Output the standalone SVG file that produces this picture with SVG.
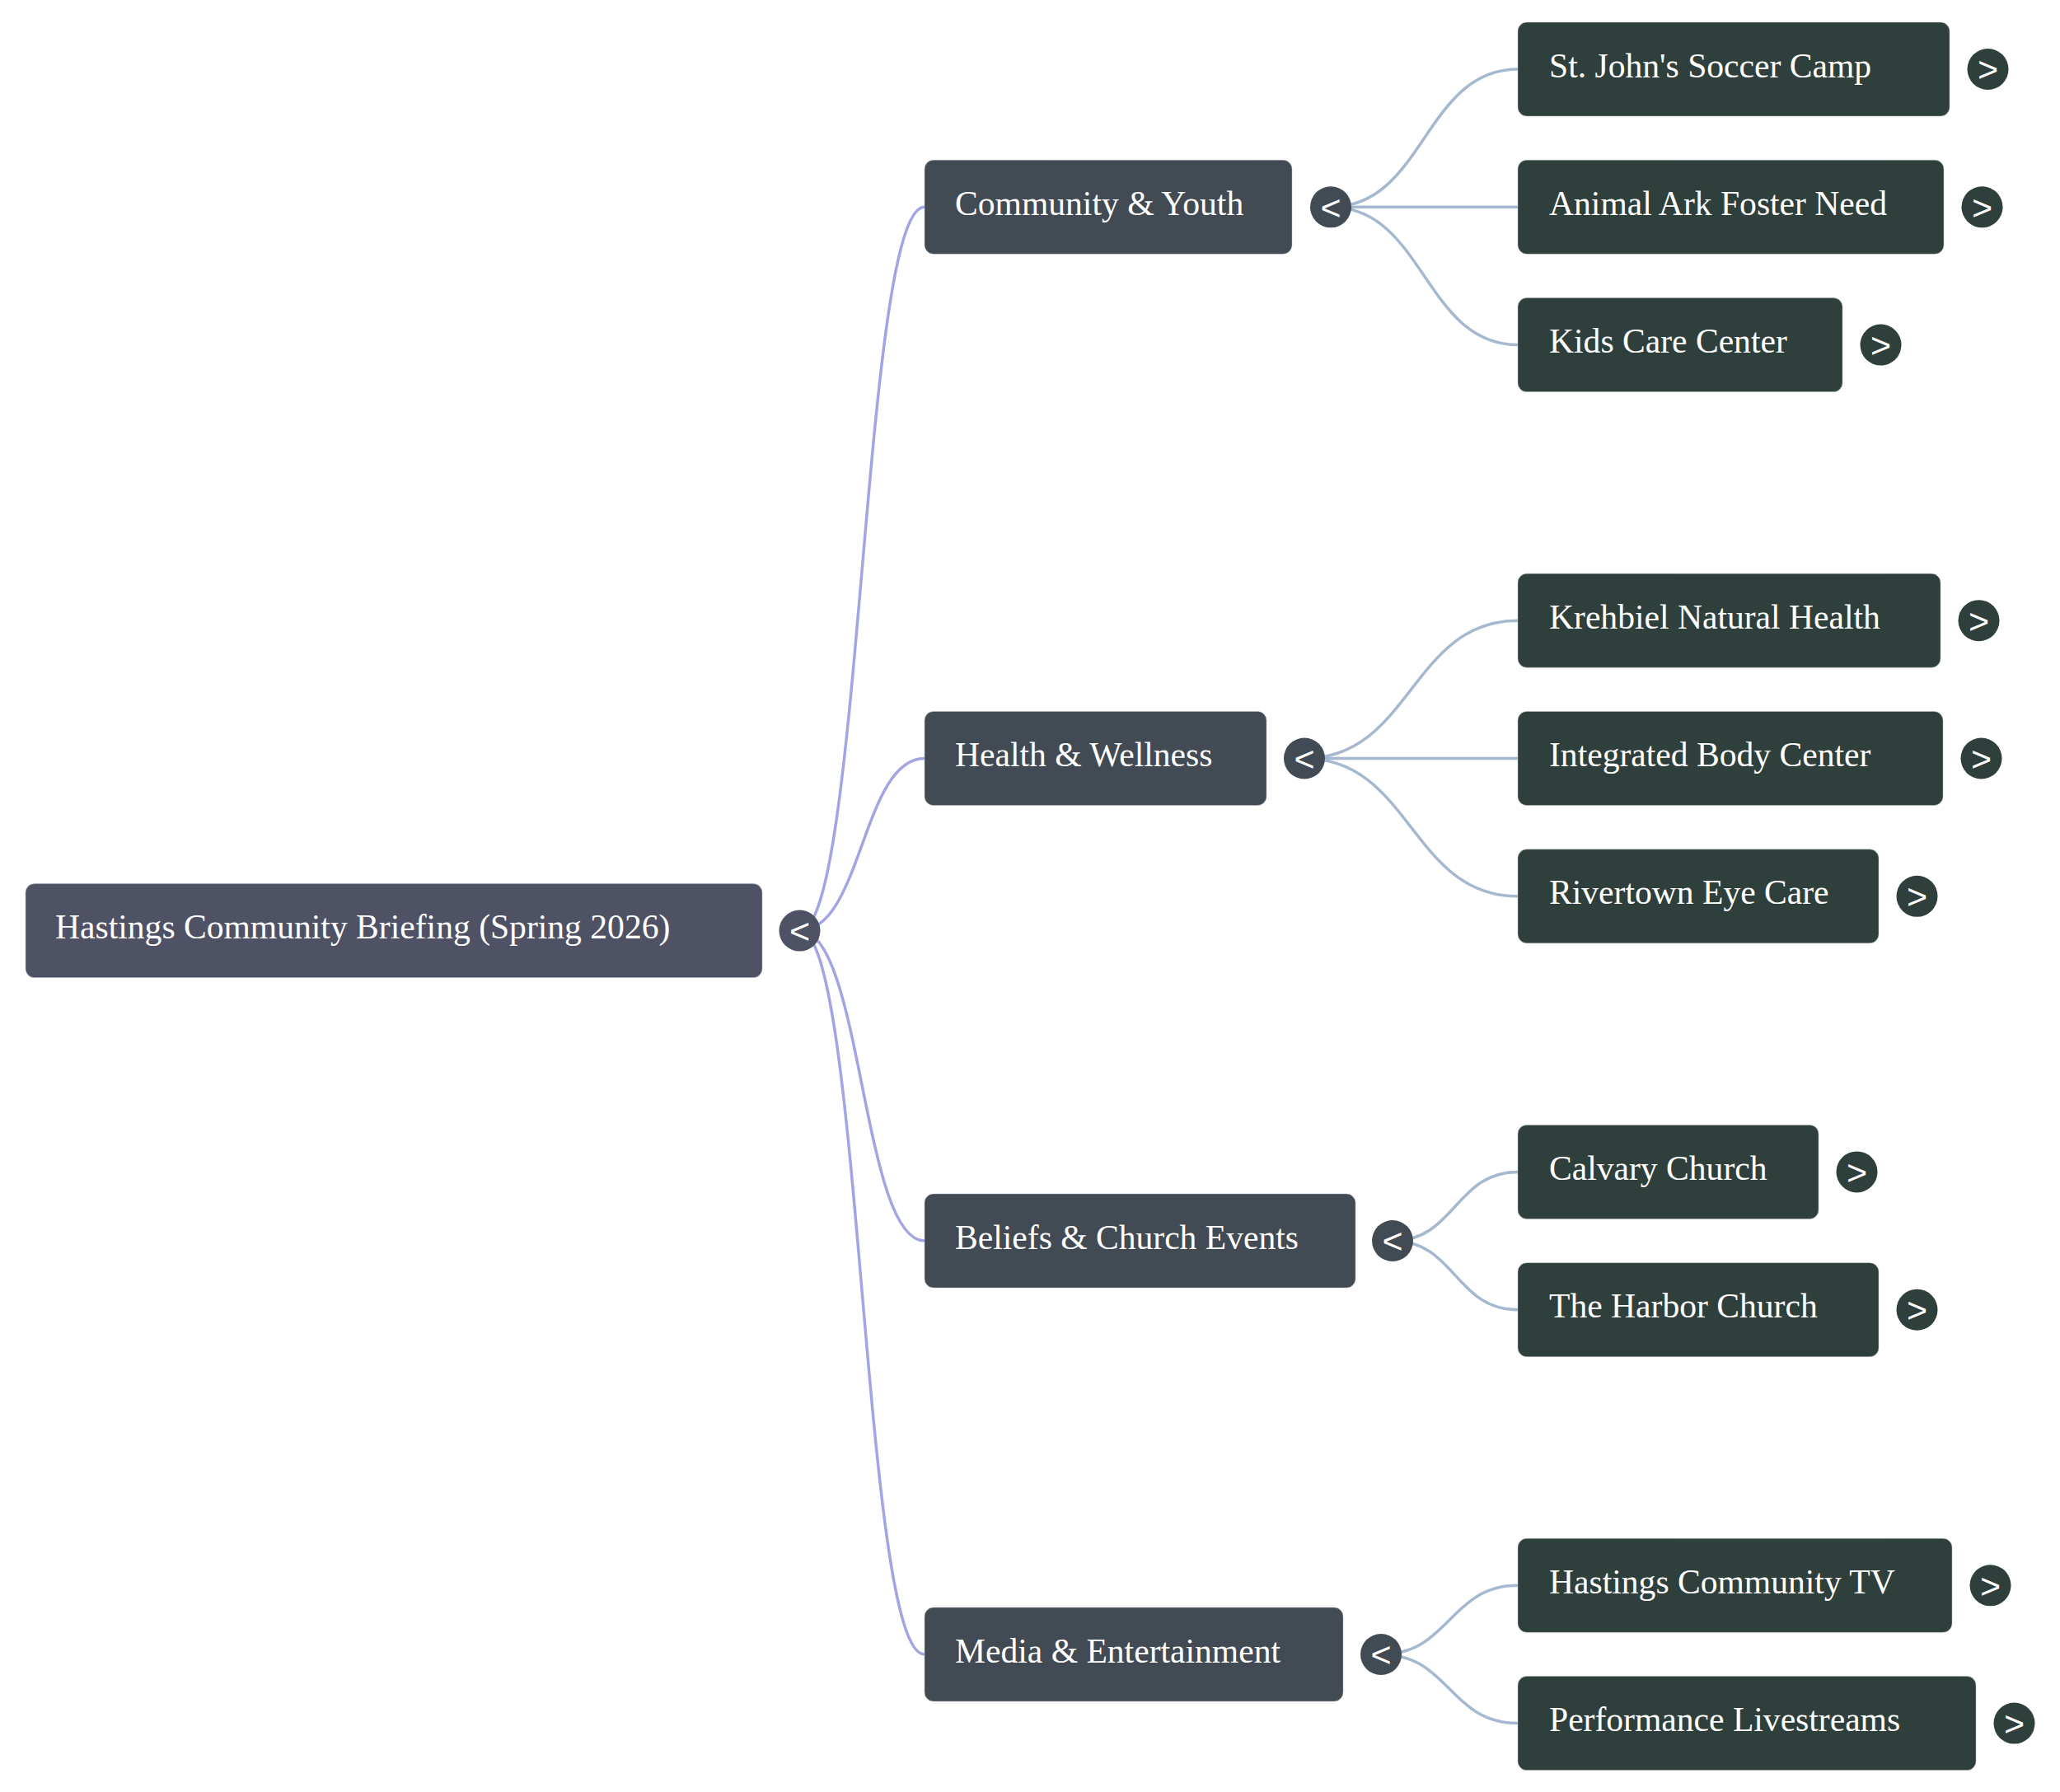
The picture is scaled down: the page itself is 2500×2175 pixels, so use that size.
<svg xmlns="http://www.w3.org/2000/svg" width="2500" height="2175" viewBox="0 0 2500 2175">
<style>
.box{stroke:#b8bcc4;stroke-width:1;stroke-opacity:0.5}
.root{fill:#4f5265}
.l1{fill:#424a53}
.l2{fill:#2f3f3c}
.lbl{font-family:"Liberation Serif","Times New Roman",serif;font-size:41.6px;fill:#ffffff}
.tog{font-family:"Liberation Sans",Arial,sans-serif;font-size:43px;fill:#ffffff;text-anchor:middle}
.e0{fill:none;stroke:#a3a4e3;stroke-width:3.5}
.e1{fill:none;stroke:#a5b8d0;stroke-width:3.5}
</style>
<rect width="2500" height="2175" fill="#ffffff"/>
<g id="connectors">
<path class="e0" d="M970.5,1129.6 C1046.25,1129.6 1046.25,251.3 1122,251.3"/>
<path class="e0" d="M970.5,1129.6 C1046.25,1129.6 1046.25,920.5 1122,920.5"/>
<path class="e0" d="M970.5,1129.6 C1046.25,1129.6 1046.25,1506 1122,1506"/>
<path class="e0" d="M970.5,1129.6 C1046.25,1129.6 1046.25,2008 1122,2008"/>
<path class="e1" d="M1615,251.3 C1728.5,251.3 1728.5,84 1842,84"/>
<path class="e1" d="M1615,251.3 L1842,251.3"/>
<path class="e1" d="M1615,251.3 C1728.5,251.3 1728.5,418.6 1842,418.6"/>
<path class="e1" d="M1583,920.5 C1712.5,920.5 1712.5,753.2 1842,753.2"/>
<path class="e1" d="M1583,920.5 L1842,920.5"/>
<path class="e1" d="M1583,920.5 C1712.5,920.5 1712.5,1087.8 1842,1087.8"/>
<path class="e1" d="M1690,1506 C1766,1506 1766,1422.4 1842,1422.4"/>
<path class="e1" d="M1690,1506 C1766,1506 1766,1589.7 1842,1589.7"/>
<path class="e1" d="M1676,2008 C1759,2008 1759,1924.3 1842,1924.3"/>
<path class="e1" d="M1676,2008 C1759,2008 1759,2091.6 1842,2091.6"/>
</g>
<g id="root">
<rect class="box root" x="31" y="1072.6" width="894" height="114" rx="11"/>
<text class="lbl" x="67" y="1139">Hastings Community Briefing (Spring 2026)</text>
<circle class="root" cx="970.5" cy="1129.6" r="25"/>
<text class="tog" x="970.5" y="1145">&lt;</text>
</g>
<g id="community-youth">
<rect class="box l1" x="1122" y="194.3" width="446" height="114" rx="11"/>
<text class="lbl" x="1159" y="260.8">Community &amp; Youth</text>
<circle class="l1" cx="1615" cy="251.3" r="25"/>
<text class="tog" x="1615" y="266.7">&lt;</text>
</g>
<g id="health-wellness">
<rect class="box l1" x="1122" y="863.5" width="415" height="114" rx="11"/>
<text class="lbl" x="1159" y="930">Health &amp; Wellness</text>
<circle class="l1" cx="1583" cy="920.5" r="25"/>
<text class="tog" x="1583" y="935.9">&lt;</text>
</g>
<g id="beliefs-church">
<rect class="box l1" x="1122" y="1449" width="523" height="114" rx="11"/>
<text class="lbl" x="1159" y="1515.5">Beliefs &amp; Church Events</text>
<circle class="l1" cx="1690" cy="1506" r="25"/>
<text class="tog" x="1690" y="1521.4">&lt;</text>
</g>
<g id="media-entertainment">
<rect class="box l1" x="1122" y="1951" width="508" height="114" rx="11"/>
<text class="lbl" x="1159" y="2017.5">Media &amp; Entertainment</text>
<circle class="l1" cx="1676" cy="2008" r="25"/>
<text class="tog" x="1676" y="2023.4">&lt;</text>
</g>
<g id="st-johns">
<rect class="box l2" x="1842" y="27" width="524" height="114" rx="11"/>
<text class="lbl" x="1880" y="93.5">St. John's Soccer Camp</text>
<circle class="l2" cx="2412.5" cy="84" r="25"/>
<text class="tog" x="2412.5" y="99.4">&gt;</text>
</g>
<g id="animal-ark">
<rect class="box l2" x="1842" y="194.3" width="517" height="114" rx="11"/>
<text class="lbl" x="1880" y="260.8">Animal Ark Foster Need</text>
<circle class="l2" cx="2405.5" cy="251.3" r="25"/>
<text class="tog" x="2405.5" y="266.7">&gt;</text>
</g>
<g id="kids-care">
<rect class="box l2" x="1842" y="361.6" width="394" height="114" rx="11"/>
<text class="lbl" x="1880" y="428.1">Kids Care Center</text>
<circle class="l2" cx="2282.5" cy="418.6" r="25"/>
<text class="tog" x="2282.5" y="434">&gt;</text>
</g>
<g id="krehbiel">
<rect class="box l2" x="1842" y="696.2" width="513" height="114" rx="11"/>
<text class="lbl" x="1880" y="762.7">Krehbiel Natural Health</text>
<circle class="l2" cx="2401.5" cy="753.2" r="25"/>
<text class="tog" x="2401.5" y="768.6">&gt;</text>
</g>
<g id="integrated-body">
<rect class="box l2" x="1842" y="863.5" width="516" height="114" rx="11"/>
<text class="lbl" x="1880" y="930">Integrated Body Center</text>
<circle class="l2" cx="2404.5" cy="920.5" r="25"/>
<text class="tog" x="2404.5" y="935.9">&gt;</text>
</g>
<g id="rivertown">
<rect class="box l2" x="1842" y="1030.8" width="438" height="114" rx="11"/>
<text class="lbl" x="1880" y="1097.3">Rivertown Eye Care</text>
<circle class="l2" cx="2326.5" cy="1087.8" r="25"/>
<text class="tog" x="2326.5" y="1103.2">&gt;</text>
</g>
<g id="calvary">
<rect class="box l2" x="1842" y="1365.4" width="365" height="114" rx="11"/>
<text class="lbl" x="1880" y="1431.9">Calvary Church</text>
<circle class="l2" cx="2253.5" cy="1422.4" r="25"/>
<text class="tog" x="2253.5" y="1437.8">&gt;</text>
</g>
<g id="harbor">
<rect class="box l2" x="1842" y="1532.7" width="438" height="114" rx="11"/>
<text class="lbl" x="1880" y="1599.2">The Harbor Church</text>
<circle class="l2" cx="2326.5" cy="1589.7" r="25"/>
<text class="tog" x="2326.5" y="1605.1">&gt;</text>
</g>
<g id="hastings-tv">
<rect class="box l2" x="1842" y="1867.3" width="527" height="114" rx="11"/>
<text class="lbl" x="1880" y="1933.8">Hastings Community TV</text>
<circle class="l2" cx="2415.5" cy="1924.3" r="25"/>
<text class="tog" x="2415.5" y="1939.7">&gt;</text>
</g>
<g id="livestreams">
<rect class="box l2" x="1842" y="2034.6" width="556" height="114" rx="11"/>
<text class="lbl" x="1880" y="2101.1">Performance Livestreams</text>
<circle class="l2" cx="2444.5" cy="2091.6" r="25"/>
<text class="tog" x="2444.5" y="2107">&gt;</text>
</g>
</svg>
